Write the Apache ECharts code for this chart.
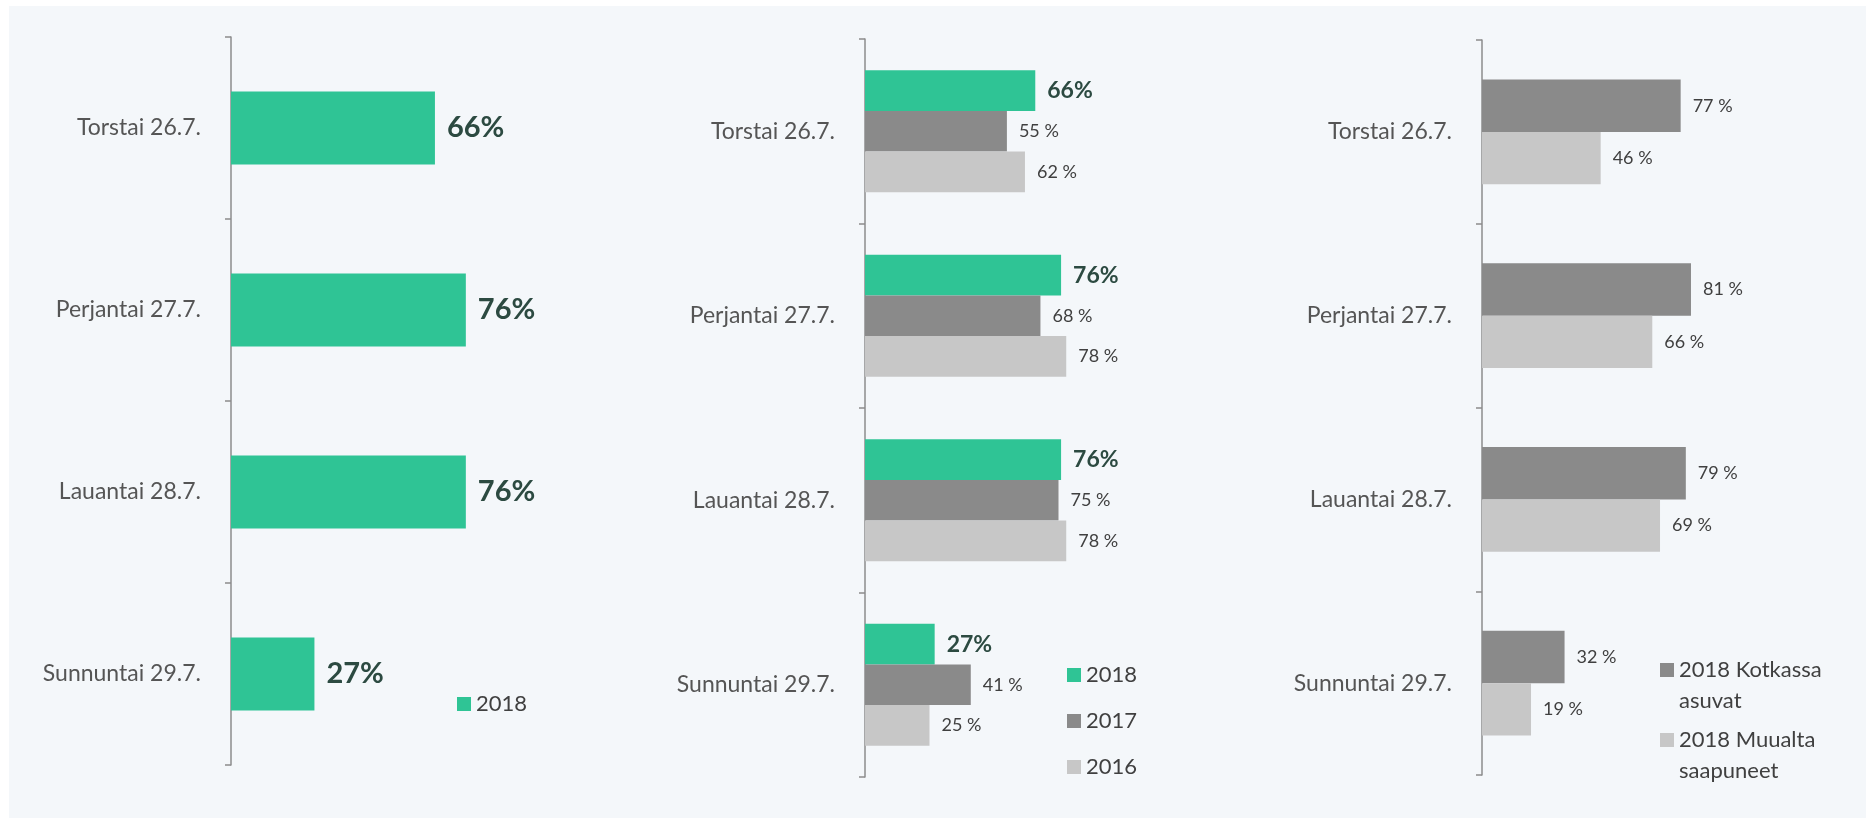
<!DOCTYPE html>
<html>
<head>
<meta charset="utf-8">
<script src="https://cdn.jsdelivr.net/npm/echarts@6/dist/echarts.min.js"></script>
<style>
html,body{margin:0;padding:0;background:#ffffff;}
#c{width:1874px;height:825px;}
</style>
</head>
<body>
<div id="c"></div>
<script>
const categories = ['Torstai 26.7.', 'Perjantai 27.7.', 'Lauantai 28.7.', 'Sunnuntai 29.7.'];
const chart1_2018 = [66, 76, 76, 27];
const chart2_2018 = [66, 76, 76, 27];
const chart2_2017 = [55, 68, 75, 41];
const chart2_2016 = [62, 78, 78, 25];
const chart3_kotka = [77, 81, 79, 32];
const chart3_muualta = [46, 66, 69, 19];
const seriesNames = ['2018', '2017', '2016', '2018 Kotkassa asuvat', '2018 Muualta saapuneet'];

const GREEN = '#2fc495', DARK = '#8a8a8a', LIGHT = '#c7c7c7';
const FONT = 'Lato';
const valDark = '#2c4a41';

const chart = echarts.init(document.getElementById('c'));

function yAx(gi) {
  return {
    type: 'category', gridIndex: gi, data: categories, inverse: true,
    axisLine: {show: true, lineStyle: {color: '#8c8c8c', width: 1.5}},
    axisTick: {show: true, length: 6, lineStyle: {color: '#8c8c8c', width: 1.5}},
    axisLabel: {color: '#555555', fontFamily: FONT, fontSize: 23, margin: 30}
  };
}
function xAx(gi) {
  return {type: 'value', gridIndex: gi, min: 0, max: 100, show: false, splitLine: {show: false}};
}
function boldLabel(sz) {
  return {show: true, position: 'right', distance: 12, formatter: '{c}%', color: valDark,
          fontFamily: FONT, fontWeight: 'bold', fontSize: sz};
}
function normLabel() {
  return {show: true, position: 'right', distance: 12, formatter: '{c} %', color: '#404040',
          fontFamily: FONT, fontSize: 18};
}

const option = {
  animation: false,
  backgroundColor: '#ffffff',
  graphic: [{type: 'rect', z: -10, silent: true, shape: {x: 9, y: 6, width: 1857, height: 812}, style: {fill: '#f4f7fa'}}],
  grid: [
    {left: 231, top: 37, width: 309, height: 728},
    {left: 865, top: 39, width: 258, height: 738},
    {left: 1482, top: 40, width: 258, height: 735}
  ],
  xAxis: [xAx(0), xAx(1), xAx(2)],
  yAxis: [yAx(0), yAx(1), yAx(2)],
  legend: [
    {data: [seriesNames[0]], orient: 'vertical', left: 457, top: 692, padding: 0,
     itemWidth: 14, itemHeight: 14, icon: 'rect',
     textStyle: {fontFamily: FONT, fontSize: 22, color: '#404040', lineHeight: 24}},
    {data: [seriesNames[0], seriesNames[1], seriesNames[2]], orient: 'vertical', left: 1067, top: 663, padding: 0,
     itemWidth: 14, itemHeight: 14, icon: 'rect', itemGap: 22,
     textStyle: {fontFamily: FONT, fontSize: 22, color: '#404040', lineHeight: 24}},
    {data: [seriesNames[3], seriesNames[4]], orient: 'vertical', left: 1660, top: 654.5, padding: 0,
     itemWidth: 14, itemHeight: 45, itemGap: 8,
     icon: 'path://M0,0L14,0L14,14L0,14Z M0,45',
     formatter: function (n) {
       return n.replace(' asuvat', '\nasuvat').replace(' saapuneet', '\nsaapuneet');
     },
     textStyle: {fontFamily: FONT, fontSize: 22, color: '#404040', lineHeight: 31}}
  ],
  series: [
    {name: seriesNames[0], type: 'bar', xAxisIndex: 0, yAxisIndex: 0, data: chart1_2018,
     barCategoryGap: '60%', itemStyle: {color: GREEN}, label: boldLabel(29)},
    {name: seriesNames[0], type: 'bar', xAxisIndex: 1, yAxisIndex: 1, data: chart2_2018,
     barGap: '0%', barCategoryGap: '34%', itemStyle: {color: GREEN}, label: boldLabel(23)},
    {name: seriesNames[1], type: 'bar', xAxisIndex: 1, yAxisIndex: 1, data: chart2_2017,
     barGap: '0%', barCategoryGap: '34%', itemStyle: {color: DARK}, label: normLabel()},
    {name: seriesNames[2], type: 'bar', xAxisIndex: 1, yAxisIndex: 1, data: chart2_2016,
     barGap: '0%', barCategoryGap: '34%', itemStyle: {color: LIGHT}, label: normLabel()},
    {name: seriesNames[3], type: 'bar', xAxisIndex: 2, yAxisIndex: 2, data: chart3_kotka,
     barGap: '0%', barCategoryGap: '43%', itemStyle: {color: DARK}, label: normLabel()},
    {name: seriesNames[4], type: 'bar', xAxisIndex: 2, yAxisIndex: 2, data: chart3_muualta,
     barGap: '0%', barCategoryGap: '43%', itemStyle: {color: LIGHT}, label: normLabel()}
  ]
};
chart.setOption(option);
</script>
</body>
</html>
